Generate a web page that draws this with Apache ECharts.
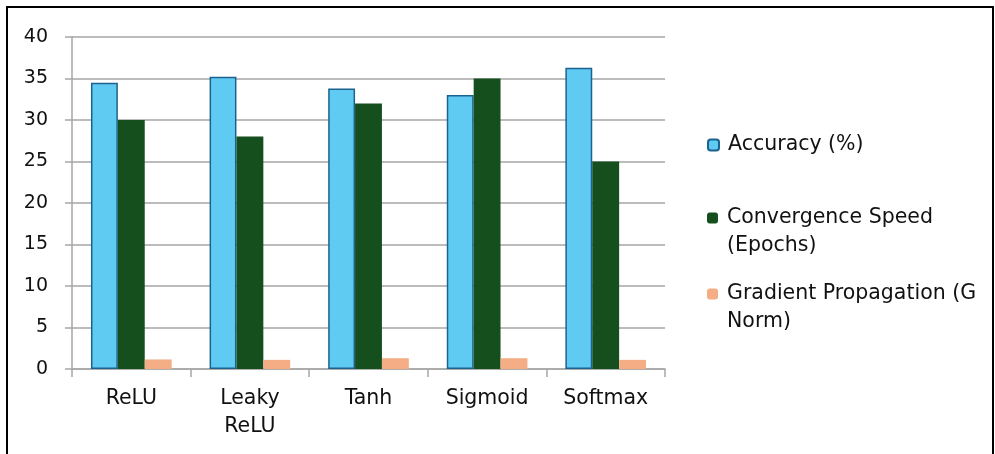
<!DOCTYPE html>
<html>
<head>
<meta charset="utf-8">
<script src="https://cdn.jsdelivr.net/npm/echarts@6/dist/echarts.min.js"></script>
<style>
  html, body { margin: 0; padding: 0; background: #fff; }
  #chart { width: 995px; height: 454px; }
</style>
</head>
<body>
<div id="chart"></div>
<script>
// Activation functions compared on three metrics
const categories = ['ReLU', 'Leaky\nReLU', 'Tanh', 'Sigmoid', 'Softmax'];
const accuracy = [34.5, 35.2, 33.8, 33.0, 36.3];
const convergenceSpeed = [30, 28, 32, 35, 25];
const gradientNorm = [1.15, 1.1, 1.3, 1.3, 1.1];
const seriesNames = ['Accuracy (%)', 'Convergence Speed\n(Epochs)', 'Gradient Propagation (G\nNorm)'];
const yTicks = { min: 0, max: 40, interval: 5 };

const FONT = '"DejaVu Sans", "Liberation Sans", sans-serif';
const TEXT = '#111111';
const GRID_GRAY = '#a6a6a6';

// One legend block per series so the swatch lines up with the first text line
function legendFor(name, top, multiline) {
  return {
    show: true,
    data: [name],
    orient: 'vertical',
    left: 707,
    top: top,
    padding: 0,
    itemWidth: 11,
    itemHeight: 11,
    selectedMode: false,
    // a leading blank line puts the first text line level with the swatch
    formatter: multiline ? (n) => '\n' + n : (n) => n,
    textStyle: {
      fontFamily: FONT,
      fontSize: 20.5,
      color: TEXT,
      lineHeight: 28,
      padding: [0, 0, 0, 4]
    }
  };
}

const chart = echarts.init(document.getElementById('chart'), null, { renderer: 'canvas' });
chart.setOption({
  backgroundColor: '#ffffff',
  animation: false,
  graphic: [{
    type: 'rect',
    shape: { x: 7, y: 7, width: 986, height: 460 },
    style: { fill: 'none', stroke: '#000', lineWidth: 2 },
    silent: true
  }],
  grid: { left: 72, top: 37, width: 593, height: 332, containLabel: false },
  legend: [
    legendFor(seriesNames[0], 131, false),
    legendFor(seriesNames[1], 176, true),
    legendFor(seriesNames[2], 252, true)
  ],
  xAxis: {
    type: 'category',
    data: categories,
    axisLine: { show: true, lineStyle: { color: GRID_GRAY, width: 1.5 } },
    axisTick: { show: true, length: 8, alignWithLabel: false, lineStyle: { color: GRID_GRAY, width: 1.5 } },
    axisLabel: { fontFamily: FONT, fontSize: 20.5, color: TEXT, margin: 16, lineHeight: 28, interval: 0 },
    splitLine: { show: false }
  },
  yAxis: {
    type: 'value',
    min: yTicks.min,
    max: yTicks.max,
    interval: yTicks.interval,
    axisLine: { show: true, lineStyle: { color: GRID_GRAY, width: 1.5 } },
    axisTick: { show: true, length: 7, lineStyle: { color: GRID_GRAY, width: 1.5 } },
    axisLabel: { fontFamily: FONT, fontSize: 19, color: TEXT, margin: 24 },
    splitLine: { show: true, lineStyle: { color: GRID_GRAY, width: 1.5 } }
  },
  series: [
    {
      name: seriesNames[0], type: 'bar', data: accuracy,
      barGap: '0%', barCategoryGap: '32%',
      itemStyle: { color: '#5fcbf3', borderColor: '#1d628f', borderWidth: 1.5 }
    },
    {
      name: seriesNames[1], type: 'bar', data: convergenceSpeed,
      itemStyle: { color: '#164f1e' }
    },
    {
      name: seriesNames[2], type: 'bar', data: gradientNorm,
      itemStyle: { color: '#f4ad85' }
    }
  ]
});
</script>
</body>
</html>
